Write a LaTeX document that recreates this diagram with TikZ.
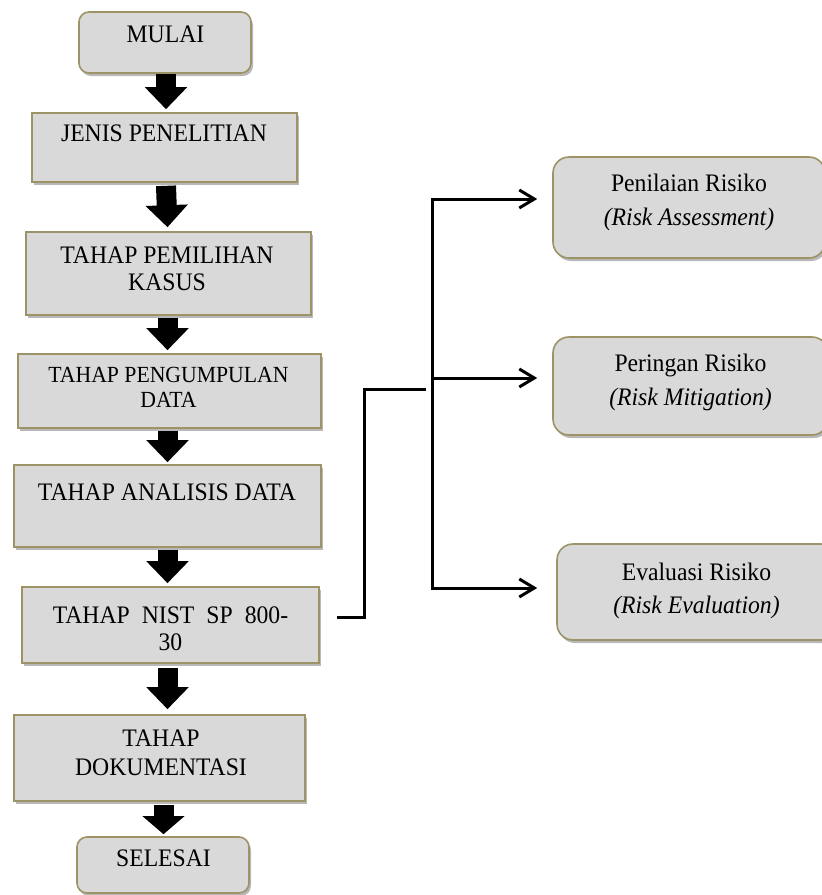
\documentclass[tikz,border=0pt]{standalone}
\usepackage{fontspec}
\setmainfont{Liberation Serif}[FakeStretch=0.94]
\usetikzlibrary{arrows.meta,shadows}
\definecolor{boxfill}{HTML}{D9D9D9}
\definecolor{boxline}{HTML}{9C9466}
\tikzset{
  boxbase/.style={draw=boxline, line width=1.6pt, fill=boxfill, inner sep=0pt,
    drop shadow={shadow xshift=2pt, shadow yshift=-3pt, fill=black, opacity=0.28}},
  sqbox/.style={boxbase},
  rbox/.style={boxbase, rounded corners=10pt},
  riskbox/.style={boxbase, rounded corners=16pt},
  lbl/.style={align=center, inner sep=0pt, text=black, font=\fontsize{25.2}{27}\selectfont},
  rlbl/.style={align=center, inner sep=0pt, text=black, font=\fontsize{25.2}{34}\selectfont},
  barrow/.style={draw=black, line width=20pt, -{Triangle[width=41pt,length=22pt]}},
  conn/.style={draw=black, line width=3pt},
  mybarb/.tip={Straight Barb[length=15pt,width=18pt,line width=3pt]}
}
\begin{document}
\begin{tikzpicture}[x=1pt,y=-1pt]
\clip (0,0) rectangle (822,895);
\fill[white] (0,0) rectangle (822,895);
% left column boxes
\node[rbox, minimum width=172pt, minimum height=61pt] (b1) at (165,42.5) {};
\node[sqbox, minimum width=265pt, minimum height=69pt] (b2) at (164.5,147.5) {};
\node[sqbox, minimum width=285pt, minimum height=83pt] (b3) at (168.5,273.5) {};
\node[sqbox, minimum width=303pt, minimum height=74pt] (b4) at (169.5,391) {};
\node[sqbox, minimum width=307pt, minimum height=82pt] (b5) at (167.5,506) {};
\node[sqbox, minimum width=297pt, minimum height=76pt] (b6) at (170.5,625) {};
\node[sqbox, minimum width=291pt, minimum height=86pt] (b7) at (159.5,758) {};
\node[rbox, minimum width=172pt, minimum height=56pt] (b8) at (163,865) {};
% right boxes
\node[riskbox, minimum width=272pt, minimum height=101pt] (r1) at (689,207.5) {};
\node[riskbox, minimum width=275pt, minimum height=98pt] (r2) at (690.5,386) {};
\node[riskbox, minimum width=280pt, minimum height=96pt] (r3) at (697,592) {};
% texts
\node[lbl] (t1) at (165.5,34.5) {MULAI};
\node[lbl] (t2) at (164,133) {JENIS PENELITIAN};
\node[lbl] (t3) at (167,268.5) {TAHAP PEMILIHAN\\KASUS};
\node[lbl, font=\fontsize{23.1}{25}\selectfont] (t4) at (168.5,387.5) {TAHAP PENGUMPULAN\\DATA};
\node[lbl] (t5) at (167,492) {TAHAP ANALISIS DATA};
\node[lbl] (t6) at (170.5,628.5) {TAHAP\hspace{12pt}NIST\hspace{12pt}SP\hspace{12pt}800-\\30};
\node[lbl, font=\fontsize{25.2}{29}\selectfont] (t7) at (161,752.5) {TAHAP\\DOKUMENTASI};
\node[lbl] (t8) at (163.5,858) {SELESAI};
\node[rlbl] (u1) at (689,202.5) {Penilaian Risiko\\\textit{(Risk Assessment)}};
\node[rlbl] (u2) at (690.5,382.5) {Peringan Risiko\\\textit{(Risk Mitigation)}};
\node[rlbl, font=\fontsize{25.2}{33}\selectfont] (u3) at (696.5,591) {Evaluasi Risiko\\\textit{(Risk Evaluation)}};
% block arrows
\draw[barrow] ([xshift=1pt]b1.south) -- ([xshift=1.5pt,yshift=3pt]b2.north);
\draw[barrow] ([xshift=1.5pt,yshift=-3pt]b2.south) -- ([xshift=-1pt,yshift=4pt]b3.north);
\draw[barrow] ([xshift=-1pt,yshift=-2pt]b3.south) -- ([xshift=-2pt,yshift=3pt]b4.north);
\draw[barrow] ([xshift=-2pt,yshift=-2pt]b4.south) -- ([xshift=0pt,yshift=2pt]b5.north);
\draw[barrow] ([xshift=0pt,yshift=-2pt]b5.south) -- ([xshift=-3pt,yshift=3pt]b6.north);
\draw[barrow] ([xshift=-3pt,yshift=-4pt]b6.south) -- ([xshift=8pt,yshift=5pt]b7.north);
\draw[barrow, -{Triangle[width=41pt,length=18pt]}] ([xshift=4pt,yshift=-3pt]b7.south) -- ([xshift=0.5pt,yshift=2pt]b8.north);
% branching connector
\coordinate (k1) at (364,389);
\coordinate (k2) at (426,389);
\coordinate (ja) at (432,199);
\coordinate (jb) at (432,378);
\coordinate (jc) at (432,588);
\draw[conn] ([xshift=17pt,yshift=8pt]b6.east) -| (k1) -- (k2);
\draw[conn, {mybarb}-{mybarb}, shorten <=15pt, shorten >=19pt] (ja -| r1.west) -- (ja) -- (jc) -- (jc -| r3.west);
\draw[conn, -{mybarb}, shorten >=15pt] (jb) -- (jb -| r2.west);
\end{tikzpicture}
\end{document}
